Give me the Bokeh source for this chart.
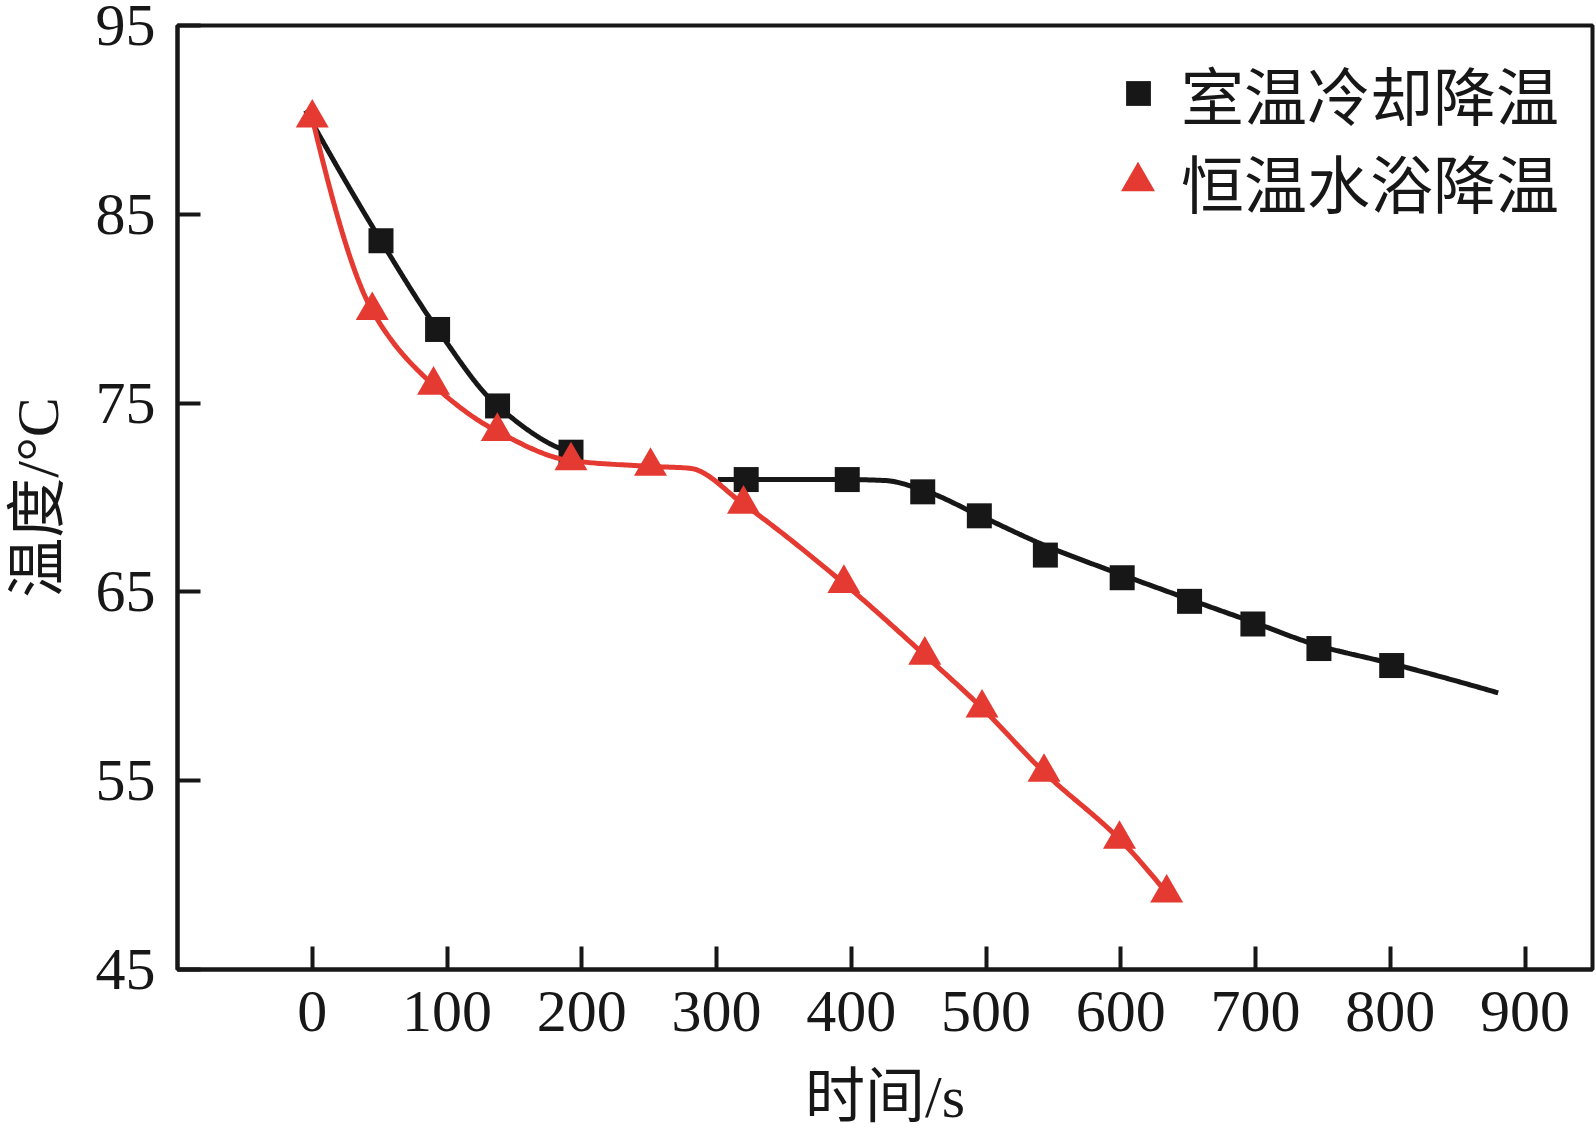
import numpy as np
from bokeh.plotting import figure
from bokeh.models import Range1d, FixedTicker, Legend, LegendItem
from bokeh.embed import file_html
from bokeh.resources import INLINE

# ---- symbols ----
black_t = [51, 93, 137.5, 192, 322, 397, 453, 495, 544, 601, 651, 698, 747, 801]
black_T = [83.6, 78.9, 74.85, 72.4, 70.95, 70.95, 70.3, 69.03, 66.95, 65.75, 64.5, 63.3, 62.0, 61.1]

red_t = [0, 44.5, 90, 137.3, 192, 251, 320, 394.5, 454.5, 497, 543, 599, 634]
red_T = [90.1, 79.9, 75.95, 73.5, 71.95, 71.65, 69.65, 65.45, 61.65, 58.85, 55.45, 51.9, 49.05]

# ---- fitted curves (knots of the drawn lines) ----
black_curve1_t = [-5, 51, 93, 137.5, 192]
black_curve1_T = [90.5, 83.6, 78.9, 74.85, 72.4]
black_curve2_t = [301, 322, 397, 425, 453, 495, 544, 601, 651, 698, 747, 801, 880]
black_curve2_T = [70.95, 70.95, 70.95, 70.9, 70.4, 69.05, 67.45, 65.9, 64.6, 63.4, 62.15, 61.2, 59.65]
red_curve_t = [0, 44.5, 90, 137.3, 192, 251, 280, 320, 394.5, 454.5, 497, 543, 599, 634]
red_curve_T = [90.1, 79.9, 75.95, 73.5, 71.95, 71.65, 71.55, 69.65, 65.45, 61.65, 58.85, 55.45, 51.9, 49.05]

x_ticks = [0, 100, 200, 300, 400, 500, 600, 700, 800, 900]
y_ticks = [45, 55, 65, 75, 85, 95]

label_black = "室温冷却降温"
label_red = "恒温水浴降温"
x_title = "时间/s"
y_title = "温度/°C"

BLACK = "#171717"
RED = "#E53A31"
NUM_FONT = "Liberation Serif"
CJK_FONT = "Liberation Serif, Noto Sans CJK SC"


def pchip(xk, yk, n=400):
    x = np.asarray(xk, float)
    y = np.asarray(yk, float)
    h = np.diff(x)
    d = np.diff(y) / h
    m = np.zeros(len(x))
    for k in range(1, len(x) - 1):
        if d[k - 1] * d[k] > 0:
            w1 = 2 * h[k] + h[k - 1]
            w2 = h[k] + 2 * h[k - 1]
            m[k] = (w1 + w2) / (w1 / d[k - 1] + w2 / d[k])

    def end(h0, h1, d0, d1):
        mm = ((2 * h0 + h1) * d0 - h0 * d1) / (h0 + h1)
        if np.sign(mm) != np.sign(d0):
            mm = 0.0
        elif np.sign(d0) != np.sign(d1) and abs(mm) > abs(3 * d0):
            mm = 3 * d0
        return mm

    if len(x) > 2:
        m[0] = end(h[0], h[1], d[0], d[1])
        m[-1] = end(h[-1], h[-2], d[-1], d[-2])
    else:
        m[:] = d[0]
    xs = np.linspace(x[0], x[-1], n)
    i = np.clip(np.searchsorted(x, xs) - 1, 0, len(x) - 2)
    t = (xs - x[i]) / h[i]
    h00 = 2 * t**3 - 3 * t**2 + 1
    h10 = t**3 - 2 * t**2 + t
    h01 = -2 * t**3 + 3 * t**2
    h11 = t**3 - t**2
    ys = h00 * y[i] + h10 * h[i] * m[i] + h01 * y[i + 1] + h11 * h[i] * m[i + 1]
    return xs, ys


W, H = 1596, 1134
p = figure(width=W, height=H, output_backend="svg", toolbar_location=None,
           x_range=Range1d(-100, 950), y_range=Range1d(45, 95),
           min_border_left=177, min_border_right=4, min_border_top=25, min_border_bottom=165)
p.grid.visible = False
p.background_fill_color = "white"
p.border_fill_color = "white"
p.outline_line_color = BLACK
p.outline_line_width = 4

for ax in (p.xaxis[0], p.yaxis[0]):
    ax.axis_line_color = BLACK
    ax.axis_line_width = 4
    ax.major_tick_line_color = BLACK
    ax.major_tick_line_width = 4
    ax.major_tick_in = 23
    ax.major_tick_out = 0
    ax.minor_tick_line_color = None
    ax.major_label_text_font = NUM_FONT
    ax.major_label_text_font_size = "60px"
    ax.major_label_text_color = BLACK
    ax.axis_label_text_font = CJK_FONT
    ax.axis_label_text_font_size = "60px"
    ax.axis_label_text_font_style = "normal"
    ax.axis_label_text_color = BLACK

p.xaxis[0].ticker = FixedTicker(ticks=x_ticks)
p.yaxis[0].ticker = FixedTicker(ticks=y_ticks)
p.xaxis[0].major_label_standoff = 22
p.yaxis[0].major_label_standoff = 22
p.xaxis[0].axis_label = x_title
p.yaxis[0].axis_label = y_title
p.xaxis[0].axis_label_standoff = 30
p.yaxis[0].axis_label_standoff = 22

bx1, by1 = pchip(black_curve1_t, black_curve1_T)
bx2, by2 = pchip(black_curve2_t, black_curve2_T)
rxs, rys = pchip(red_curve_t, red_curve_T)

p.line(bx1, by1, line_color=BLACK, line_width=5)
p.line(bx2, by2, line_color=BLACK, line_width=5)
rb = p.scatter(black_t, black_T, marker="square", size=25, fill_color=BLACK, line_color=None)
p.line(rxs, rys, line_color=RED, line_width=5)
rr = p.scatter(red_t, red_T, marker="triangle", size=33, fill_color=RED, line_color=None)

common = dict(border_line_color=None, background_fill_alpha=0, padding=0, margin=0,
              label_text_font=CJK_FONT, label_text_font_size="63px", label_text_color=BLACK,
              glyph_height=90, spacing=0)
leg1 = Legend(items=[LegendItem(label=label_black, renderers=[rb])], location=(930, 831),
              glyph_width=62, label_standoff=12, **common)
leg2 = Legend(items=[LegendItem(label=label_red, renderers=[rr])], location=(918, 743),
              glyph_width=85, label_standoff=1, **common)
p.add_layout(leg1)
p.add_layout(leg2)

open("out.html", "w").write(file_html(p, INLINE))
